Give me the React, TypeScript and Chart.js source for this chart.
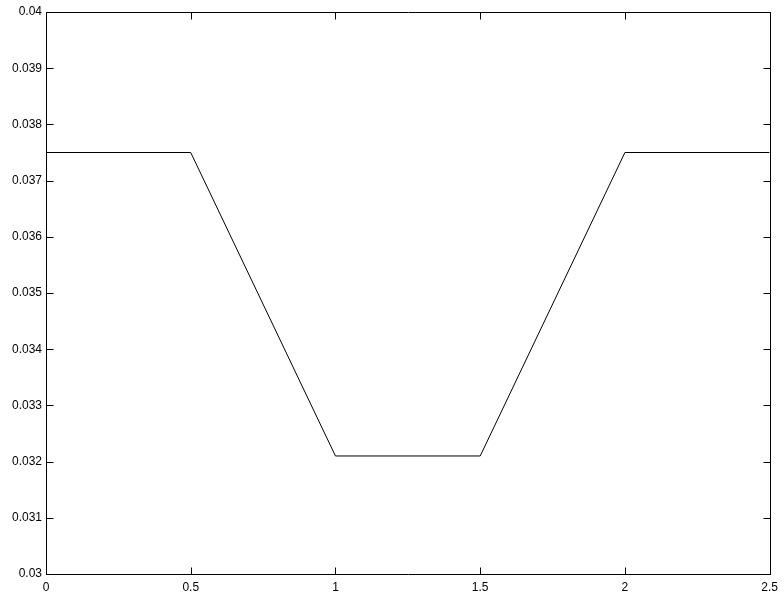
import React, { useEffect, useRef } from "react";
import { Chart, registerables } from "chart.js";

Chart.register(...registerables);

const xValues = [0, 0.5, 1, 1.5, 2, 2.5];
const yValues = [0.0375, 0.0375, 0.0321, 0.0321, 0.0375, 0.0375];
const xTicks = [0, 0.5, 1, 1.5, 2, 2.5];
const yTicks = [0.03, 0.031, 0.032, 0.033, 0.034, 0.035, 0.036, 0.037, 0.038, 0.039, 0.04];

const boxPlugin = {
  id: "matlabBox",
  afterDraw(chart: any) {
    const { ctx, chartArea } = chart;
    const { left, right, top, bottom } = chartArea;
    const xs = chart.scales.x;
    const ys = chart.scales.y;
    const L = 7;
    ctx.save();
    ctx.strokeStyle = "#000";
    ctx.lineWidth = 1;
    ctx.beginPath();
    const l = Math.round(left) + 0.5, r = Math.round(right) + 0.5;
    const t = Math.round(top) + 0.5, b = Math.round(bottom) + 0.5;
    ctx.rect(l, t, r - l, b - t);
    for (const v of xTicks) {
      const px = Math.round(xs.getPixelForValue(v)) + 0.5;
      ctx.moveTo(px, b);
      ctx.lineTo(px, b - L);
      ctx.moveTo(px, t);
      ctx.lineTo(px, t + L);
    }
    for (const v of yTicks) {
      const py = Math.round(ys.getPixelForValue(v)) + 0.5;
      ctx.moveTo(l, py);
      ctx.lineTo(l + L, py);
      ctx.moveTo(r, py);
      ctx.lineTo(r - L, py);
    }
    ctx.stroke();
    ctx.restore();
  },
};

export default function App() {
  const ref = useRef<HTMLCanvasElement>(null);
  useEffect(() => {
    document.body.style.margin = "0";
    const chart = new Chart(ref.current!, {
      type: "line",
      data: {
        datasets: [
          {
            data: xValues.map((x, i) => ({ x, y: yValues[i] })),
            borderColor: "#000",
            borderWidth: 1,
            pointRadius: 0,
            tension: 0,
            fill: false,
          },
        ],
      },
      options: {
        animation: false,
        responsive: false,
        maintainAspectRatio: false,
        layout: { padding: { top: 12, right: 10, left: 0, bottom: 0 } },
        plugins: { legend: { display: false }, tooltip: { enabled: false } },
        scales: {
          x: {
            type: "linear",
            min: 0,
            max: 2.5,
            afterBuildTicks: (s: any) => {
              s.ticks = xTicks.map((v) => ({ value: v }));
            },
            afterFit: (s: any) => {
              s.height = 23;
            },
            grid: { display: false, drawTicks: false },
            border: { display: false },
            ticks: {
              padding: 6,
              color: "#000",
              font: { family: "'Liberation Sans', Arial, sans-serif", size: 12 },
              maxRotation: 0,
              callback: (v: any) => String(v),
            },
          },
          y: {
            type: "linear",
            min: 0.03,
            max: 0.04,
            afterBuildTicks: (s: any) => {
              s.ticks = yTicks.map((v) => ({ value: v }));
            },
            afterFit: (s: any) => {
              s.width = 46;
            },
            grid: { display: false, drawTicks: false },
            border: { display: false },
            ticks: {
              padding: 4,
              color: "#000",
              font: { family: "'Liberation Sans', Arial, sans-serif", size: 12 },
              callback: (v: any) => String(Math.round(v * 1000) / 1000),
            },
          },
        },
      },
      plugins: [boxPlugin],
    });
    return () => chart.destroy();
  }, []);
  return (
    <div style={{ position: "absolute", left: 0, top: 0, width: 784, height: 597, background: "#fff" }}>
      <canvas ref={ref} width={784} height={597} style={{ width: 784, height: 597 }} />
    </div>
  );
}
